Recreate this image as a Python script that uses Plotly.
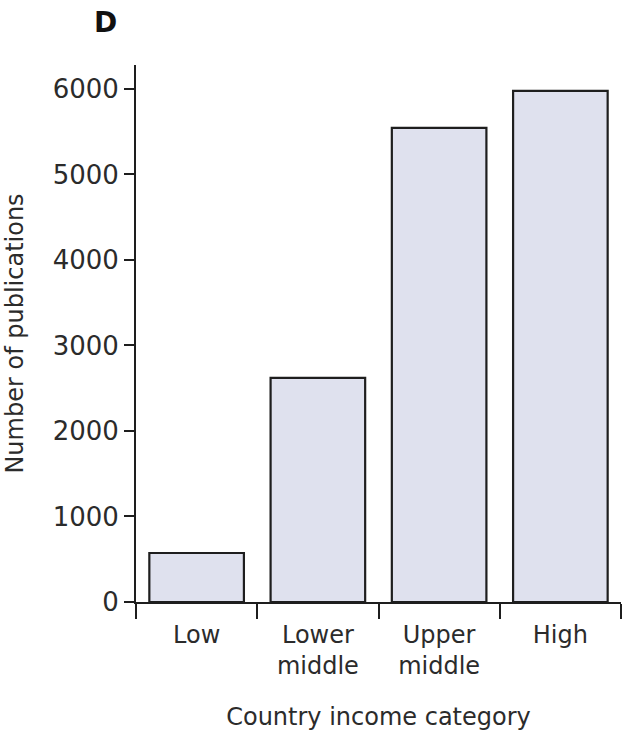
import plotly.graph_objects as go

categories = ["Low", "Lower<br>middle", "Upper<br>middle", "High"]
publications = [573, 2620, 5545, 5977]
y_ticks = [0, 1000, 2000, 3000, 4000, 5000, 6000]

FONT = "DejaVu Sans"
TXT = "#2b2b2b"

fig = go.Figure(go.Bar(
    x=categories, y=publications,
    marker=dict(color="#dfe1ee", line=dict(color="#1e1e1e", width=2.2)),
    width=0.78,
))

fig.update_layout(
    width=625, height=731,
    margin=dict(l=136, r=4, t=65, b=129),
    plot_bgcolor="white", paper_bgcolor="white",
    showlegend=False,
    font=dict(family=FONT, color=TXT, size=24),
    annotations=[dict(text="<b>D</b>", xref="x domain", yref="y domain",
                      x=(105 - 136) / 485, y=1 + (65 - 22) / 537,
                      xanchor="center", yanchor="middle", showarrow=False,
                      font=dict(size=28, color="#111", family=FONT))],
)

fig.update_xaxes(
    type="category", range=[-0.5, 3.5], tickson="boundaries",
    showline=True, linecolor="#1e1e1e", linewidth=2,
    ticks="outside", ticklen=15, tickwidth=2, tickcolor="#1e1e1e",
    ticklabelstandoff=10,
    tickfont=dict(size=24, family=FONT, color=TXT),
    title=dict(text="Country income category", font=dict(size=24, family=FONT, color=TXT), standoff=29),
    showgrid=False, zeroline=False,
)
fig.update_yaxes(
    range=[0, 6280], tickvals=y_ticks,
    showline=True, linecolor="#1e1e1e", linewidth=2,
    ticks="outside", ticklen=10, tickwidth=2, tickcolor="#1e1e1e",
    tickfont=dict(size=26, family=FONT, color=TXT),
    title=dict(text="Number of publications", font=dict(size=24, family=FONT, color=TXT), standoff=22),
    showgrid=False, zeroline=False,
)

fig.write_html("out.html")
